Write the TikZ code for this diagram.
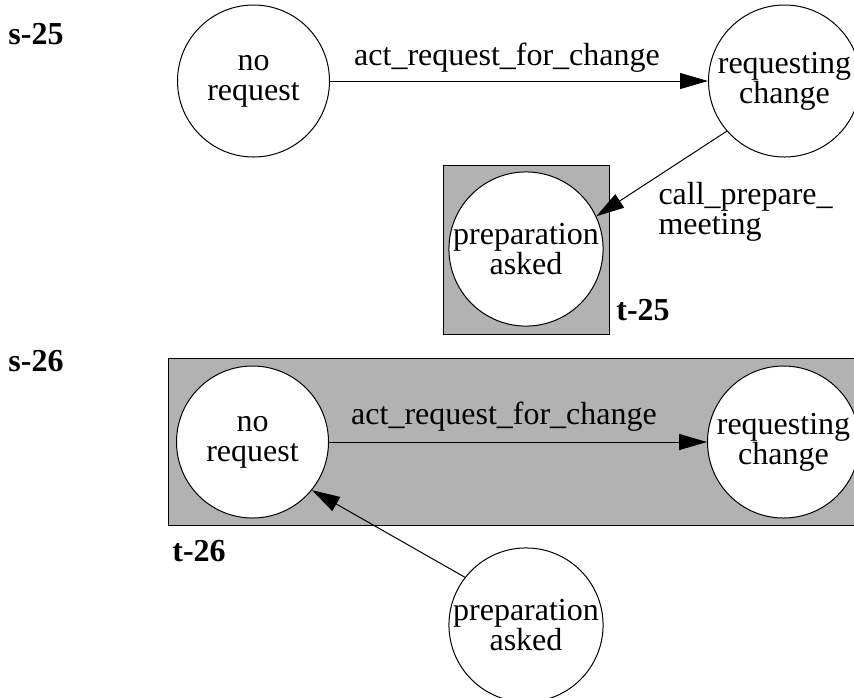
\documentclass[tikz,border=0pt]{standalone}
\usepackage{fontspec}
\setmainfont{Liberation Serif}
\usetikzlibrary{positioning,arrows.meta}
\definecolor{clustergrey}{gray}{0.70}

\begin{document}
\begin{tikzpicture}[x=0.5pt, y=-0.5pt, line width=0.5pt,
                    font=\fontsize{16}{15}\selectfont,
                    roundnode/.style={circle, draw=black, fill=white, inner sep=0pt, minimum size=76pt, align=center},
                    clusterbox/.style={rectangle, draw=black, fill=clustergrey, inner sep=0pt},
                    steplabel/.style={font=\fontsize{16}{15}\selectfont\bfseries, inner sep=0pt},
                    edgelabel/.style={inner sep=0pt, align=left},
                    arrowline/.style={-{Triangle[length=14pt, width=8pt]}}]
    \useasboundingbox (0,0) rectangle (854,697);
    % step s-25
    \node[steplabel]  (s25)     at (36,34)        {s-25};
    \node[clusterbox, minimum width=83pt, minimum height=84.5pt] (t25) at (526,249.5) {};
    \node[steplabel]  (t25lab)  at (643,310)      {t-25};
    \node[roundnode]  (nr25)    at (253.5,81)     {no\\request};
    \node[roundnode]  (rc25)    [right=189pt of nr25] {requesting\\change};
    \node[roundnode]  (pa25)    at (526,249)      {preparation\\asked};
    \node[edgelabel]  (act25)   at (507,58)       {act\_request\_for\_change};
    \node[edgelabel, anchor=west] (call25) at (658,212) {call\_prepare\_\\meeting};
    % step s-26
    \node[steplabel]  (s26)     at (36,361)       {s-26};
    \node[clusterbox, minimum width=351pt, minimum height=83.75pt] (t26) at (519,442) {};
    \node[steplabel]  (t26lab)  at (199,551)      {t-26};
    \node[roundnode]  (nr26)    at (252.5,442)    {no\\request};
    \node[roundnode]  (rc26)    [right=189pt of nr26] {requesting\\change};
    \node[roundnode]  (pa26)    at (526,625)      {preparation\\asked};
    \node[edgelabel]  (act26)   at (504,416.5)    {act\_request\_for\_change};
    % lines
    \draw[arrowline] (nr25) -- (rc25);
    \draw[arrowline] (rc25.221) -- (pa25.25);
    \draw[arrowline] (nr26) -- (rc26);
    \draw[arrowline] (pa26.142) -- (nr26.-39);
\end{tikzpicture}
\end{document}
